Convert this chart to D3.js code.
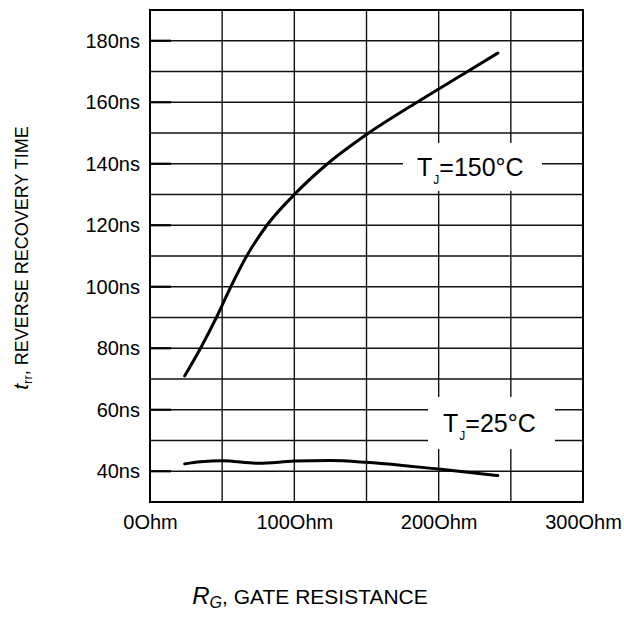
<!DOCTYPE html>
<html><head><meta charset="utf-8">
<script src="https://cdn.jsdelivr.net/npm/d3@7/dist/d3.min.js"></script>
<style>body{margin:0;background:#fff}svg{display:block}text{font-family:"Liberation Sans",Arial,sans-serif;fill:#000}</style>
</head><body><svg id="c" width="624" height="632"></svg>
<script>
const xTicks = [0, 100, 200, 300];
const xTickLabels = ["0Ohm", "100Ohm", "200Ohm", "300Ohm"];
const yTicks = [40, 60, 80, 100, 120, 140, 160, 180];
const yTickLabels = ["40ns", "60ns", "80ns", "100ns", "120ns", "140ns", "160ns", "180ns"];
const xGrid = [50, 100, 150, 200, 250];
const yGrid = [40, 50, 60, 70, 80, 90, 100, 110, 120, 130, 140, 150, 160, 170, 180];
const rg150 = [24, 35, 46, 56, 67, 81, 100, 123, 150, 185, 220, 241];
const trr150 = [71, 80, 90, 100, 110, 120, 130, 140, 149.5, 160, 170, 176];
const rg25 = [24, 35, 50, 75, 100, 125, 150, 175, 200, 241];
const trr25 = [42.4, 43.1, 43.4, 42.6, 43.3, 43.5, 42.9, 41.9, 40.7, 38.6];

const svg = d3.select("#c");
const L = 150, R = 583, T = 10, B = 502;
const x = d3.scaleLinear().domain([0, 300]).range([L, R]);
const y = d3.scaleLinear().domain([30, 190]).range([B, T]);
const FF = '"Liberation Sans",Arial,sans-serif';

const g = svg.append("g");
g.selectAll(".vg").data(xGrid).join("line")
  .attr("x1", d => x(d)).attr("x2", d => x(d)).attr("y1", T).attr("y2", B)
  .attr("stroke", "#111").attr("stroke-width", 1.4);
g.selectAll(".hg").data(yGrid).join("line")
  .attr("x1", L).attr("x2", R).attr("y1", d => y(d)).attr("y2", d => y(d))
  .attr("stroke", "#111").attr("stroke-width", 1.4);
g.selectAll(".yt").data(yTicks).join("line")
  .attr("x1", L).attr("x2", L + 21).attr("y1", d => y(d)).attr("y2", d => y(d))
  .attr("stroke", "#000").attr("stroke-width", 2.2);

const yAxis = d3.axisLeft(y).tickValues(yTicks).tickFormat((d, i) => yTickLabels[i]).tickSize(0).tickPadding(10);
const ya = svg.append("g").attr("transform", `translate(${L},0)`).call(yAxis);
ya.select(".domain").remove();
ya.selectAll("text").attr("font-size", 20).attr("font-family", FF);
const xAxis = d3.axisBottom(x).tickValues(xTicks).tickFormat((d, i) => xTickLabels[i]).tickSize(0).tickPadding(13);
const xa = svg.append("g").attr("transform", `translate(0,${B})`).call(xAxis);
xa.select(".domain").remove();
xa.selectAll("text").attr("font-size", 20).attr("font-family", FF);

svg.append("rect").attr("x", L).attr("y", T).attr("width", R - L).attr("height", B - T)
  .attr("fill", "none").attr("stroke", "#000").attr("stroke-width", 2);

const line = d3.line().curve(d3.curveMonotoneX).x(d => x(d[0])).y(d => y(d[1]));
svg.append("path").datum(rg150.map((v, i) => [v, trr150[i]])).attr("d", line)
  .attr("fill", "none").attr("stroke", "#000").attr("stroke-width", 3).attr("stroke-linecap", "round");
svg.append("path").datum(rg25.map((v, i) => [v, trr25[i]])).attr("d", line)
  .attr("fill", "none").attr("stroke", "#000").attr("stroke-width", 3).attr("stroke-linecap", "round");

function label(bx, by, bw, bh, tx, tyBase, rest) {
  svg.append("rect").attr("x", bx).attr("y", by).attr("width", bw).attr("height", bh).attr("fill", "#fff");
  const t = svg.append("text").attr("x", tx).attr("y", tyBase).attr("font-size", 25);
  t.append("tspan").text("T");
  t.append("tspan").attr("font-size", 12).attr("dy", 8).attr("dx", 1).text("J");
  t.append("tspan").attr("dy", -8).text(rest);
}
label(403, 143, 139, 48, 417, 176, "=150°C");
label(428, 397, 127, 52, 443, 432, "=25°C");

const yt = svg.append("text").attr("transform", "translate(28,258) rotate(-90)").attr("text-anchor", "middle").attr("font-size", 18);
yt.append("tspan").attr("font-style", "italic").attr("font-size", 21).text("t");
yt.append("tspan").attr("font-size", 13).attr("dy", 4).text("rr");
yt.append("tspan").attr("dy", -4).text(", REVERSE RECOVERY TIME");

const xt = svg.append("text").attr("x", 310).attr("y", 604).attr("text-anchor", "middle").attr("font-size", 21);
xt.append("tspan").attr("font-style", "italic").attr("font-size", 24).text("R");
xt.append("tspan").attr("font-style", "italic").attr("font-size", 16).attr("dy", 4).text("G");
xt.append("tspan").attr("dy", -4).text(", GATE RESISTANCE");
</script></body></html>
